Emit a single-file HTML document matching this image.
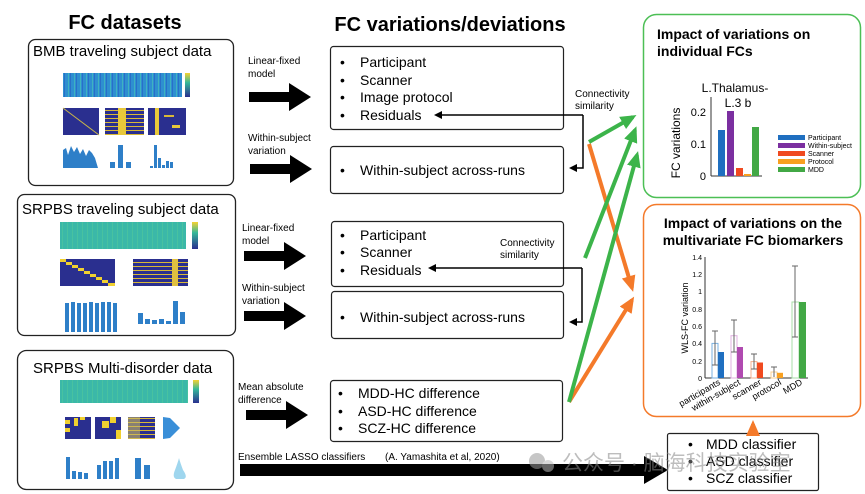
<!DOCTYPE html>
<html><head><meta charset="utf-8"><style>
html,body{margin:0;padding:0;background:#fff;}
svg{display:block;font-family:"Liberation Sans",Arial,sans-serif;}
</style></head><body>
<svg width="865" height="494" viewBox="0 0 865 494" xmlns="http://www.w3.org/2000/svg">
<defs>
<marker id="ah" markerWidth="8" markerHeight="8" refX="6" refY="4" orient="auto" markerUnits="userSpaceOnUse"><path d="M0,0 L8,4 L0,8 Z" fill="#000"/></marker>
<marker id="ag" markerWidth="16" markerHeight="14" refX="12" refY="7" orient="auto" markerUnits="userSpaceOnUse"><path d="M0,0 L16,7 L0,14 Z" fill="#3cb44a"/></marker>
<marker id="ao" markerWidth="16" markerHeight="14" refX="12" refY="7" orient="auto" markerUnits="userSpaceOnUse"><path d="M0,0 L16,7 L0,14 Z" fill="#f47a2a"/></marker>
<linearGradient id="cb" x1="0" y1="0" x2="0" y2="1"><stop offset="0" stop-color="#f5d232"/><stop offset=".4" stop-color="#35b89a"/><stop offset="1" stop-color="#2a2f8f"/></linearGradient>
<pattern id="hm" width="6" height="4" patternUnits="userSpaceOnUse"><rect width="6" height="4" fill="#2e8fd0"/><rect x="2" width="1" height="4" fill="#3fb2c0"/><rect x="4" width="1" height="4" fill="#2a6fc8"/></pattern>
<pattern id="hm2" width="5" height="4" patternUnits="userSpaceOnUse"><rect width="5" height="4" fill="#3bb8a8"/><rect x="2" width="1" height="4" fill="#48c2a0"/></pattern>
<pattern id="strip" width="6" height="4" patternUnits="userSpaceOnUse"><rect width="6" height="4" fill="#2a2f8f"/><rect y="2" width="6" height="1" fill="#d8b838"/></pattern>
</defs>

<!-- headers -->
<text x="125" y="29" font-size="20" font-weight="bold" text-anchor="middle">FC datasets</text>
<text x="450" y="31" font-size="20" font-weight="bold" text-anchor="middle">FC variations/deviations</text>

<!-- left panel 1 -->
<rect x="28.5" y="39.5" width="205" height="146" rx="7" fill="#fff" stroke="#222" stroke-width="1.3"/>
<text x="33" y="56" font-size="15">BMB traveling subject data</text>
<rect x="63" y="73" width="119" height="24" fill="url(#hm)"/>
<rect x="185" y="73" width="5" height="24" fill="url(#cb)"/>
<rect x="63" y="108" width="36" height="27" fill="#2a2f8f"/><line x1="63" y1="108" x2="99" y2="135" stroke="#c9b64a" stroke-width="1"/>
<rect x="105" y="108" width="39" height="27" fill="url(#strip)"/><rect x="118" y="108" width="8" height="27" fill="#e8c83a"/>
<rect x="148" y="108" width="38" height="27" fill="#2a2f8f"/><rect x="155" y="108" width="4" height="27" fill="#e8c83a"/><rect x="164" y="115" width="10" height="2" fill="#d8b838"/><rect x="172" y="125" width="8" height="3" fill="#e8c83a"/>
<g fill="#2e7fc8">
<path d="M63,168 L63,150 66,148 68,155 71,146 74,152 77,147 80,154 83,149 86,156 89,150 92,153 95,158 98,168 Z"/>
<rect x="110" y="162" width="5" height="6"/><rect x="118" y="145" width="5" height="23"/><rect x="126" y="162" width="5" height="6"/>
<rect x="150" y="166" width="3" height="2"/><rect x="154" y="145" width="3" height="23"/><rect x="158" y="158" width="3" height="10"/><rect x="162" y="165" width="3" height="3"/><rect x="166" y="161" width="3" height="7"/><rect x="170" y="162" width="3" height="6"/>
</g>

<!-- left panel 2 -->
<rect x="17.5" y="194.5" width="218" height="141" rx="7" fill="#fff" stroke="#222" stroke-width="1.3"/>
<text x="22" y="214" font-size="15">SRPBS traveling subject data</text>
<rect x="60" y="222" width="126" height="27" fill="url(#hm2)"/>
<rect x="192" y="222" width="6" height="27" fill="url(#cb)"/>
<rect x="60" y="259" width="55" height="27" fill="#2a2f8f"/>
<g fill="#f0d030"><rect x="60" y="259" width="6" height="3"/><rect x="66" y="262" width="6" height="3"/><rect x="72" y="265" width="6" height="3"/><rect x="78" y="268" width="6" height="3"/><rect x="84" y="271" width="6" height="3"/><rect x="90" y="274" width="6" height="3"/><rect x="96" y="277" width="6" height="3"/><rect x="102" y="280" width="6" height="3"/><rect x="108" y="283" width="7" height="3"/></g>
<rect x="133" y="259" width="55" height="27" fill="url(#strip)"/><rect x="172" y="259" width="6" height="27" fill="#e0c040"/>
<g fill="#2e7fc8">
<rect x="65" y="303" width="4" height="29"/><rect x="71" y="302" width="4" height="30"/><rect x="77" y="303" width="4" height="29"/><rect x="83" y="303" width="4" height="29"/><rect x="89" y="302" width="4" height="30"/><rect x="95" y="303" width="4" height="29"/><rect x="101" y="302" width="4" height="30"/><rect x="107" y="302" width="4" height="30"/><rect x="113" y="303" width="4" height="29"/>
<rect x="138" y="313" width="5" height="11"/><rect x="145" y="319" width="5" height="5"/><rect x="152" y="320" width="5" height="4"/><rect x="159" y="319" width="5" height="5"/><rect x="166" y="321" width="5" height="3"/><rect x="173" y="301" width="5" height="23"/><rect x="180" y="312" width="5" height="12"/>
</g>

<!-- left panel 3 -->
<rect x="17.5" y="350.5" width="216" height="139" rx="9" fill="#fff" stroke="#222" stroke-width="1.3"/>
<text x="33" y="373" font-size="15">SRPBS Multi-disorder data</text>
<rect x="60" y="380" width="128" height="23" fill="url(#hm2)"/>
<rect x="193" y="380" width="6" height="23" fill="url(#cb)"/>
<rect x="65" y="417" width="26" height="22" fill="#2a2f8f"/><rect x="65" y="420" width="5" height="4" fill="#f0d030"/><rect x="65" y="428" width="5" height="4" fill="#f0d030"/><rect x="74" y="418" width="4" height="8" fill="#f0d030"/><rect x="80" y="417" width="5" height="3" fill="#f0d030"/>
<rect x="95" y="417" width="26" height="22" fill="#2a2f8f"/><rect x="102" y="421" width="7" height="7" fill="#f0d030"/><rect x="110" y="417" width="6" height="6" fill="#f0d030"/><rect x="116" y="430" width="5" height="9" fill="#f0d030"/>
<rect x="128" y="417" width="27" height="22" fill="url(#strip)"/><rect x="128" y="417" width="12" height="22" fill="#c8b860" opacity=".6"/>
<path d="M163,417 L170,418 L180,428 L170,438 L163,439 Z" fill="#3a8fd8"/>
<g fill="#2e7fc8">
<rect x="66" y="457" width="4" height="22"/><rect x="72" y="471" width="4" height="8"/><rect x="78" y="472" width="4" height="7"/><rect x="84" y="473" width="4" height="6"/>
<rect x="97" y="465" width="4" height="14"/><rect x="103" y="461" width="4" height="18"/><rect x="109" y="461" width="4" height="18"/><rect x="115" y="458" width="4" height="21"/>
<rect x="135" y="458" width="6" height="21"/><rect x="144" y="465" width="6" height="14"/>
</g>
<path d="M175,470 Q172,477 176,479 L184,479 Q188,477 183,470 Q180,462 179,458 Q178,462 175,470Z" fill="#9fd6ee"/>

<!-- block arrows -->
<g fill="#000">
<path d="M249,92 h40 v-9 l22,14 l-22,14 v-9 h-40 Z"/>
<path d="M250,164 h40 v-9 l22,14 l-22,14 v-9 h-40 Z"/>
<path d="M244,251 h40 v-9 l22,14 l-22,14 v-9 h-40 Z"/>
<path d="M244,311 h40 v-9 l22,14 l-22,14 v-9 h-40 Z"/>
<path d="M246,410 h40 v-9 l22,14 l-22,14 v-9 h-40 Z"/>
<path d="M240,464 h404 v-8 l24,14 l-24,14 v-8 h-404 Z"/>
</g>
<g font-size="10">
<text x="248" y="64">Linear-fixed</text><text x="248" y="77">model</text>
<text x="248" y="141">Within-subject</text><text x="248" y="154">variation</text>
<text x="242" y="231">Linear-fixed</text><text x="242" y="244">model</text>
<text x="242" y="291">Within-subject</text><text x="242" y="304">variation</text>
<text x="238" y="390">Mean absolute</text><text x="238" y="403">difference</text>
<text x="238" y="460">Ensemble LASSO classifiers</text><text x="385" y="460">(A. Yamashita et al, 2020)</text>
</g>

<!-- middle boxes -->
<g fill="#fff" stroke="#222" stroke-width="1.2">
<rect x="330.5" y="46.5" width="233" height="83" rx="3"/>
<rect x="330.5" y="146.5" width="233" height="47" rx="3"/>
<rect x="331.5" y="221.5" width="232" height="65" rx="3"/>
<rect x="331.5" y="291.5" width="232" height="47" rx="3"/>
<rect x="330.5" y="380.5" width="232" height="61" rx="3"/>
<rect x="667.5" y="433.5" width="151" height="57" rx="2"/>
</g>
<g font-size="14">
<text x="340" y="67">•</text><text x="360" y="67">Participant</text>
<text x="340" y="85">•</text><text x="360" y="85">Scanner</text>
<text x="340" y="102">•</text><text x="360" y="102">Image protocol</text>
<text x="340" y="120">•</text><text x="360" y="120">Residuals</text>
<text x="340" y="175">•</text><text x="360" y="175">Within-subject across-runs</text>
<text x="340" y="240">•</text><text x="360" y="240">Participant</text>
<text x="340" y="257">•</text><text x="360" y="257">Scanner</text>
<text x="340" y="275">•</text><text x="360" y="275">Residuals</text>
<text x="340" y="322">•</text><text x="360" y="322">Within-subject across-runs</text>
<text x="338" y="398">•</text><text x="358" y="398">MDD-HC difference</text>
<text x="338" y="416">•</text><text x="358" y="416">ASD-HC difference</text>
<text x="338" y="433">•</text><text x="358" y="433">SCZ-HC difference</text>
<text x="688" y="449">•</text><text x="706" y="449">MDD classifier</text>
<text x="688" y="466">•</text><text x="706" y="466">ASD classifier</text>
<text x="688" y="483">•</text><text x="706" y="483">SCZ classifier</text>
</g>
<g font-size="10">
<text x="575" y="97">Connectivity</text><text x="575" y="109">similarity</text>
<text x="500" y="246">Connectivity</text><text x="500" y="258">similarity</text>
</g>
<!-- connectors -->
<g fill="none" stroke="#000" stroke-width="1.5">
<path d="M583,115 H436" marker-end="url(#ah)"/><path d="M583,115 V168 H571" marker-end="url(#ah)"/>
<path d="M582,268 H430" marker-end="url(#ah)"/><path d="M582,268 V322 H571" marker-end="url(#ah)"/>
</g>

<!-- right green box -->
<rect x="643.5" y="14.5" width="217" height="183" rx="13" fill="#fff" stroke="#4cbf55" stroke-width="1.5"/>
<text x="657" y="39" font-size="14" font-weight="bold">Impact of variations on</text>
<text x="657" y="56" font-size="14" font-weight="bold">individual FCs</text>
<text x="735" y="92" font-size="12" text-anchor="middle">L.Thalamus-</text>
<text x="738" y="107" font-size="12" text-anchor="middle">L.3 b</text>
<line x1="711" y1="97" x2="711" y2="176" stroke="#333"/><line x1="711" y1="176" x2="762" y2="176" stroke="#333"/>
<g font-size="11" text-anchor="end"><text x="706" y="116">0.2</text><text x="706" y="148">0.1</text><text x="706" y="180">0</text></g>
<text transform="translate(680,143) rotate(-90)" font-size="12" text-anchor="middle">FC variations</text>
<rect x="718" y="130" width="7" height="46" fill="#1f6fc0"/>
<rect x="727" y="111" width="7" height="65" fill="#7b2fa0"/>
<rect x="736" y="168" width="7" height="8" fill="#f04a20"/>
<rect x="744" y="174" width="7" height="2" fill="#f8a020"/>
<rect x="752" y="127" width="7" height="49" fill="#42a845"/>
<g font-size="7"><rect x="778" y="135" width="27" height="5" fill="#1f6fc0"/><text x="808" y="140">Participant</text>
<rect x="778" y="143" width="27" height="5" fill="#7b2fa0"/><text x="808" y="148">Within-subject</text>
<rect x="778" y="151" width="27" height="5" fill="#f04a20"/><text x="808" y="156">Scanner</text>
<rect x="778" y="159" width="27" height="5" fill="#f8a020"/><text x="808" y="164">Protocol</text>
<rect x="778" y="167" width="27" height="5" fill="#42a845"/><text x="808" y="172">MDD</text></g>

<!-- right orange box -->
<rect x="643.5" y="204.5" width="217" height="212" rx="13" fill="#fff" stroke="#f47a2a" stroke-width="1.5"/>
<text x="753" y="228" font-size="14" font-weight="bold" text-anchor="middle">Impact of variations on the</text>
<text x="753" y="245" font-size="14" font-weight="bold" text-anchor="middle">multivariate FC biomarkers</text>
<line x1="705" y1="257" x2="705" y2="378" stroke="#333"/><line x1="705" y1="378" x2="808" y2="378" stroke="#333"/>
<g font-size="7" text-anchor="end"><text x="702" y="260">1.4</text><text x="702" y="277">1.2</text><text x="702" y="294">1</text><text x="702" y="312">0.8</text><text x="702" y="329">0.6</text><text x="702" y="346">0.4</text><text x="702" y="364">0.2</text><text x="702" y="381">0</text></g>
<text transform="translate(688,318) rotate(-90)" font-size="9" text-anchor="middle">WLS-FC variation</text>
<g stroke-width="1">
<rect x="712" y="343.4" width="6" height="34.6" fill="#fff" stroke="#7ab0e0"/><rect x="718" y="352" width="6" height="26" fill="#1f6fc0"/>
<rect x="731" y="335.7" width="6" height="42.3" fill="#fff" stroke="#e0b0e0"/><rect x="737" y="347" width="6" height="31" fill="#b04ab0"/>
<rect x="751" y="361.6" width="6" height="16.4" fill="#fff" stroke="#f4b090"/><rect x="757" y="362.5" width="6" height="15.5" fill="#f04a20"/>
<rect x="771" y="372" width="6" height="6" fill="#fff" stroke="#f8d090"/><rect x="777" y="372.8" width="6" height="5.2" fill="#f8a020"/>
<rect x="792" y="302" width="7" height="76" fill="#fff" stroke="#a8dca8"/><rect x="799" y="302" width="7" height="76" fill="#42a845"/>
</g>
<g stroke="#666" stroke-width="1" fill="none">
<path d="M715,331V365M712,331h6M712,365h6"/><path d="M734,320V352M731,320h6M731,352h6"/>
<path d="M754,354V369M751,354h6M751,369h6"/><path d="M774,367V377M771,367h6"/><path d="M795,266V337M792,266h6M792,337h6"/>
</g>
<g font-size="9" text-anchor="end">
<text transform="translate(721,384) rotate(-30)">participants</text>
<text transform="translate(741,384) rotate(-30)">within-subject</text>
<text transform="translate(762,384) rotate(-30)">scanner</text>
<text transform="translate(782,384) rotate(-30)">protocol</text>
<text transform="translate(803,384) rotate(-30)">MDD</text>
</g>

<!-- colored arrows -->
<g fill="none" stroke-width="4">
<line x1="589" y1="144" x2="632" y2="288" stroke="#f47a2a" marker-end="url(#ao)"/>
<line x1="569" y1="402" x2="632" y2="300" stroke="#f47a2a" marker-end="url(#ao)"/>
<line x1="753" y1="432" x2="753" y2="424" stroke="#f47a2a" marker-end="url(#ao)"/>
<line x1="589" y1="142" x2="633" y2="117" stroke="#3cb44a" marker-end="url(#ag)"/>
<line x1="585" y1="258" x2="635" y2="130" stroke="#3cb44a" marker-end="url(#ag)"/>
<line x1="569" y1="402" x2="637" y2="155" stroke="#3cb44a" marker-end="url(#ag)"/>
</g>

<!-- watermark -->
<g opacity="0.55">
<circle cx="537" cy="461" r="8" fill="#999"/><circle cx="548" cy="466" r="6" fill="#bbb"/>
<text x="562" y="470" font-size="21" fill="#888" font-family="'Liberation Sans','Noto Sans CJK SC',sans-serif">公众号 · 脑海科技实验室</text>
</g>
</svg>
</body></html>
